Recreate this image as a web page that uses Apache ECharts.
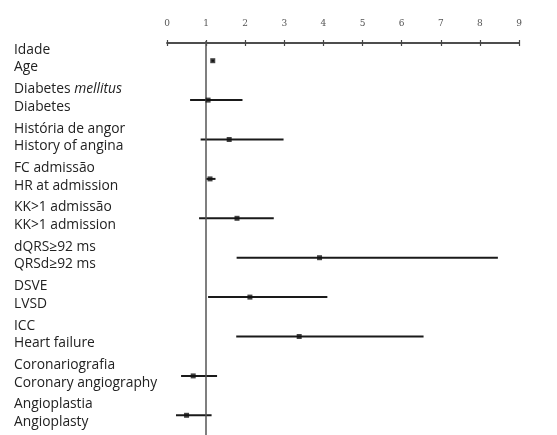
<!DOCTYPE html>
<html><head><meta charset="utf-8">
<script src="https://cdn.jsdelivr.net/npm/echarts@6/dist/echarts.min.js"></script>
<style>html,body{margin:0;padding:0;background:#fff}#c{width:557px;height:435px}</style>
</head><body><div id="c"></div>
<script>
var labelsPt = ['Idade','Diabetes mellitus','História de angor','FC admissão','KK>1 admissão','dQRS≥92 ms','DSVE','ICC','Coronariografia','Angioplastia'];
var labelsEn = ['Age','Diabetes','History of angina','HR at admission','KK>1 admission','QRSd≥92 ms','LVSD','Heart failure','Coronary angiography','Angioplasty'];
var estimate = [1.17, 1.05, 1.59, 1.10, 1.79, 3.90, 2.12, 3.38, 0.67, 0.50];
var lower    = [1.14, 0.59, 0.86, 1.00, 0.82, 1.78, 1.05, 1.77, 0.36, 0.23];
var upper    = [1.20, 1.93, 2.98, 1.24, 2.73, 8.46, 4.10, 6.56, 1.28, 1.14];
var xTicks = [0,1,2,3,4,5,6,7,8,9];

var chart = echarts.init(document.getElementById('c'));
var font = '"Open Sans", sans-serif';
function xAxisDef(extra){
  var o = {
    type:'value', min:0, max:9, interval:1, position:'top', offset:-2,
    splitLine:{show:false},
    axisLine:{show:true, lineStyle:{color:'#444', width:1.5}}
  };
  for (var k in extra) o[k] = extra[k];
  return o;
}
chart.setOption({
  animation:false,
  grid:{left:167, right:38, top:41, bottom:-3},
  xAxis:[
    xAxisDef({
      axisTick:{show:true, inside:false, length:3, lineStyle:{color:'#444', width:1.2}},
      axisLabel:{show:true, margin:15, fontSize:9, color:'#555', fontFamily:'"DejaVu Serif", serif',
        formatter:function(v){return xTicks.indexOf(v)>=0 ? String(v) : '';}}
    }),
    xAxisDef({
      axisTick:{show:true, inside:true, length:3, lineStyle:{color:'#444', width:1.2}},
      axisLabel:{show:false}
    })
  ],
  yAxis:[{
    type:'category', inverse:true, data:labelsPt,
    axisLine:{show:false}, axisTick:{show:false}, splitLine:{show:false},
    axisLabel:{
      align:'left', margin:153, lineHeight:17.5, padding:[0,0,4,0],
      formatter:function(v, idx){
        var p = labelsPt[idx];
        var top = p === 'Diabetes mellitus' ? '{a|Diabetes }{i|mellitus}' : '{a|' + p + '}';
        return top + '\n{a|' + labelsEn[idx] + '}';
      },
      rich:{
        a:{fontSize:13.8, color:'#222', fontFamily:font, lineHeight:17.5},
        i:{fontSize:13.8, color:'#222', fontFamily:font, fontStyle:'italic', lineHeight:17.5}
      }
    }
  }],
  series:[
    {
      type:'custom', xAxisIndex:0, yAxisIndex:0,
      data:estimate.map(function(v,i){return [lower[i], upper[i], labelsPt[i]];}),
      encode:{x:[0,1], y:2},
      renderItem:function(params, api){
        var a = api.coord([api.value(0), api.value(2)]);
        var b = api.coord([api.value(1), api.value(2)]);
        return {type:'line', shape:{x1:a[0], y1:a[1], x2:b[0], y2:b[1]},
          style:{stroke:'#1a1a1a', lineWidth:2}};
      }
    },
    {
      type:'scatter', xAxisIndex:0, yAxisIndex:0, symbol:'rect', symbolSize:5,
      itemStyle:{color:'#111'},
      data:estimate.map(function(v,i){return [v, labelsPt[i]];}),
      z:5,
      markLine:{
        silent:true, symbol:['none','none'], label:{show:false},
        lineStyle:{color:'#555', width:1.5, type:'solid'},
        data:[{xAxis:1}]
      }
    }
  ]
});
</script></body></html>
